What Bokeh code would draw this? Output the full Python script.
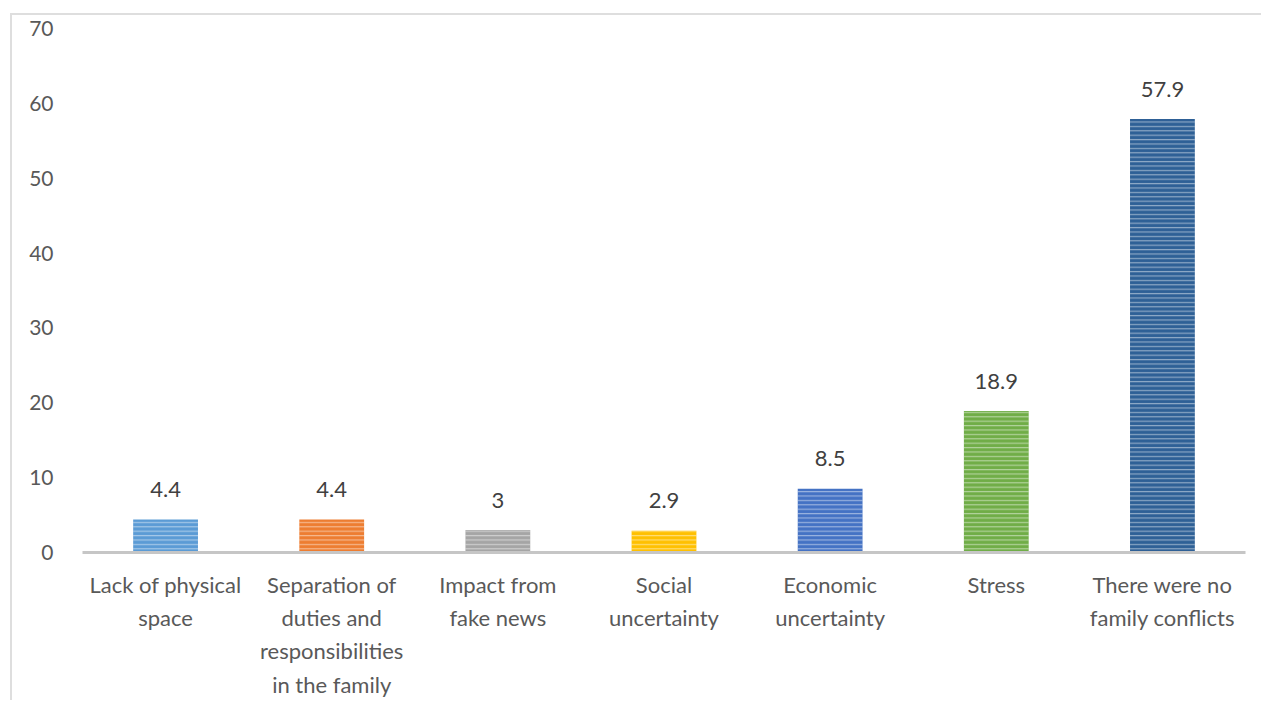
from bokeh.plotting import figure
from bokeh.models import ColumnDataSource, LabelSet, FixedTicker, Range1d
from bokeh.core.properties import value
from bokeh.embed import file_html
from bokeh.resources import INLINE

categories = [
    "Lack of physical\nspace",
    "Separation of\nduties and\nresponsibilities\nin the family",
    "Impact from\nfake news",
    "Social\nuncertainty",
    "Economic\nuncertainty",
    "Stress",
    "There were no\nfamily conflicts",
]
values = [4.4, 4.4, 3, 2.9, 8.5, 18.9, 57.9]
value_labels = ["4.4", "4.4", "3", "2.9", "8.5", "18.9", "57.9"]
colors = ["#5B9BD5", "#ED7D31", "#A5A5A5", "#FFC000", "#4472C4", "#70AD47", "#2E6096"]
y_ticks = [0, 10, 20, 30, 40, 50, 60, 70]

FONT = "Lato"
TEXT_GRAY = "#595959"
FRAME_GRAY = "#DEDEDE"

src = ColumnDataSource(dict(cat=categories, val=values, lab=value_labels, color=colors))

p = figure(x_range=categories, y_range=Range1d(0, 70), width=1261, height=700,
           output_backend="svg", toolbar_location=None,
           min_border_left=82, min_border_right=16, min_border_top=28, min_border_bottom=148)
p.outline_line_color = None
p.xgrid.grid_line_color = None
p.ygrid.grid_line_color = None
p.x_range.range_padding = 0
p.border_fill_color = None
p.background_fill_color = None
grad = f"linear-gradient({FRAME_GRAY},{FRAME_GRAY})"
p.styles = {
    "background-color": "white",
    "background-image": f"{grad}, {grad}",
    "background-size": "2px 100%, 100% 2px",
    "background-position": "10px 13px, 10px 13px",
    "background-repeat": "no-repeat",
}

p.vbar(x="cat", top="val", width=0.39, source=src, fill_color="color", line_color=None,
       hatch_pattern="horizontal_line", hatch_color="white", hatch_alpha=0.45,
       hatch_scale=4.4, hatch_weight=1.2)

labels = LabelSet(x="cat", y="val", text="lab", source=src, y_offset=30,
                  text_align="center", text_baseline="middle",
                  text_font=value(FONT), text_font_size="22px", text_color="#404040")
p.add_layout(labels)

p.yaxis.ticker = FixedTicker(ticks=y_ticks)
p.yaxis.axis_line_color = None
p.yaxis.major_tick_line_color = None
p.yaxis.minor_tick_line_color = None
p.yaxis.major_label_text_font = FONT
p.yaxis.major_label_text_font_size = "21px"
p.yaxis.major_label_text_color = TEXT_GRAY
p.yaxis.major_label_standoff = 23

p.xaxis.axis_line_color = "#C6C6C6"
p.xaxis.axis_line_width = 3
p.xaxis.major_tick_line_color = None
p.xaxis.minor_tick_line_color = None
p.xaxis.major_tick_out = 0
p.xaxis.major_label_text_font = FONT
p.xaxis.major_label_text_font_size = "22px"
p.xaxis.major_label_text_color = TEXT_GRAY
p.xaxis.major_label_text_line_height = 1.24
p.xaxis.major_label_standoff = 18

open("out.html", "w").write(file_html(p, INLINE))
